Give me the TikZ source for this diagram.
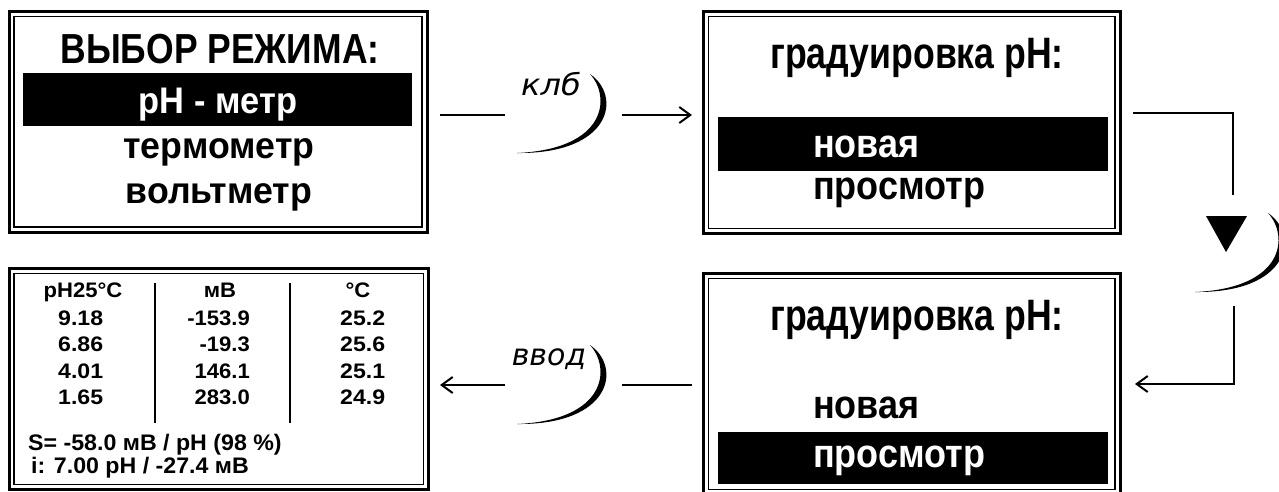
\documentclass[tikz,border=0pt]{standalone}
\usepackage{fontspec}
\setmainfont{Liberation Sans}
\newfontfamily\labfont{DejaVu Sans}
\usetikzlibrary{arrows.meta}
\newcommand{\sxb}[2]{\scalebox{#1}[1]{#2}}
\begin{document}
\begin{tikzpicture}[x=1pt,y=-1pt,
  frame/.style={draw, line width=3pt, rectangle, inner sep=0pt, outer sep=0pt},
  band/.style={fill=black, rectangle, inner sep=0pt, outer sep=0pt},
  ttl/.style={inner sep=0pt, anchor=base, font=\bfseries\fontsize{42}{48}\selectfont},
  item/.style={inner sep=0pt, anchor=base, font=\bfseries\fontsize{37}{42}\selectfont},
  gtl/.style={inner sep=0pt, anchor=base, font=\bfseries\fontsize{44}{48}\selectfont},
  itemw/.style={inner sep=0pt, anchor=base west, font=\bfseries\fontsize{40}{44}\selectfont},
  tab/.style={inner sep=0pt, anchor=base, font=\bfseries\fontsize{21}{24}\selectfont},
  sline/.style={inner sep=0pt, anchor=base west, font=\bfseries\fontsize{22.5}{26}\selectfont},
  lab/.style={inner sep=0pt, anchor=base, font=\labfont\itshape\fontsize{30}{34}\selectfont},
  conn/.style={line width=2pt},
  arr/.style={conn, -{Straight Barb[length=11pt,width=16pt]}},
  cres/.pic={\fill (0,0) .. controls (32,22) and (22,80) .. (-73,79) .. controls (17,75) and (21,23) .. (0,0) -- cycle;}
]
\useasboundingbox (0,0) rectangle (1279,491);
\clip (0,0) rectangle (1279,491);
\fill[white] (0,0) rectangle (1279,491);

% frames
\node[frame, minimum width=418pt, minimum height=220.3pt] (b1) at (218,121.85) {};
\node[frame, minimum width=416.5pt, minimum height=221.8pt] (b2) at (911.75,122.6) {};
\node[frame, minimum width=416.5pt, minimum height=221.2pt] (b3) at (911.75,383.9) {};
\node[frame, minimum width=419.3pt, minimum height=221.2pt] (b4) at (218.65,378.9) {};
\foreach \b in {b1,b2,b3,b4}
  \draw[line width=1.2pt] ([shift={(5,5)}]\b.north west) rectangle ([shift={(-5,-5)}]\b.south east);

% highlight bands
\node[band, minimum width=389pt, minimum height=53pt] (hb1) at (217.5,99.5) {};
\node[band, minimum width=390pt, minimum height=54pt] (hb2) at (913,144) {};
\node[band, minimum width=390pt, minimum height=52pt] (hb3) at (913,458) {};

% box 1
\node[ttl] (t1) at (220,63) {\sxb{0.845}{ВЫБОР РЕЖИМА:}};
\node[item, text=white] (m1) at (218,113) {\sxb{0.93}{pH - метр}};
\node[item] (m2) at (219,158) {\sxb{0.965}{термометр}};
\node[item] (m3) at (219,203) {\sxb{0.965}{вольтметр}};

% box 2
\node[gtl] (g1) at (917,68) {\sxb{0.81}{градуировка pH:}};
\node[itemw, text=white] (n1) at (813,157) {\sxb{0.9}{новая}};
\node[itemw] (p1) at (813,199) {\sxb{0.9}{просмотр}};

% box 3
\node[gtl] (g2) at (917,330) {\sxb{0.81}{градуировка pH:}};
\node[itemw] (n2) at (813,418) {\sxb{0.9}{новая}};
\node[itemw, text=white] (p2) at (813,467) {\sxb{0.9}{просмотр}};

% box 4 table
\node[tab] (h1) at (83,297) {\sxb{1.05}{pH25°C}};
\node[tab] (h2) at (220,297) {\sxb{1.05}{мВ}};
\node[tab] (h3) at (358,297) {\sxb{1.05}{°C}};
\foreach \y/\a/\b/\c [count=\i] in {325/9.18/-153.9/25.2, 351.5/6.86/-19.3/25.6, 378/4.01/146.1/25.1, 404.5/1.65/283.0/24.9}{
  \node[tab, anchor=base west] (ca\i) at (58,\y) {\sxb{1.1}{\a}};
  \node[tab, anchor=base east] (cb\i) at (250,\y) {\sxb{1.05}{\b}};
  \node[tab, anchor=base west] (cc\i) at (340,\y) {\sxb{1.1}{\c}};
}
\coordinate (v1a) at (155,283); \coordinate (v1b) at (155,423);
\coordinate (v2a) at (290,283); \coordinate (v2b) at (290,423);
\draw[conn] (v1a) -- (v1b);
\draw[conn] (v2a) -- (v2b);
\node[sline] (s1) at (28,450) {\sxb{1.03}{S= -58.0 мВ / pH (98 \%)}};
\node[sline] (s2) at (31,473) {\sxb{1.03}{i: 7.00 pH / -27.4 мВ}};

% buttons
\node[lab] (klb) at (551,95) {\sxb{1.07}{клб}};
\pic at (590,74) {cres};
\node[lab] (vvod) at (549,365) {ввод};
\pic at (590,345) {cres};
\pic at (1268,213) {cres};
\fill (1206,216) -- (1247,216) -- (1226,252) -- cycle;

% connectors
\coordinate (a1) at (440,115); \coordinate (a2) at (505,115);
\coordinate (a3) at (622,115); \coordinate (a4) at (692,115);
\draw[conn] (a1) -- (a2);
\draw[arr] (a3) -- (a4);
\coordinate (r1) at (1133,113); \coordinate (r2) at (1233,195);
\draw[conn] (r1) -| (r2);
\coordinate (r3) at (1234,306); \coordinate (r4) at (1135,384);
\draw[arr] (r3) |- (r4);
\coordinate (d1) at (692,385); \coordinate (d2) at (622,385);
\coordinate (d3) at (505,385); \coordinate (d4) at (440,385);
\draw[conn] (d1) -- (d2);
\draw[arr] (d3) -- (d4);
\end{tikzpicture}
\end{document}
